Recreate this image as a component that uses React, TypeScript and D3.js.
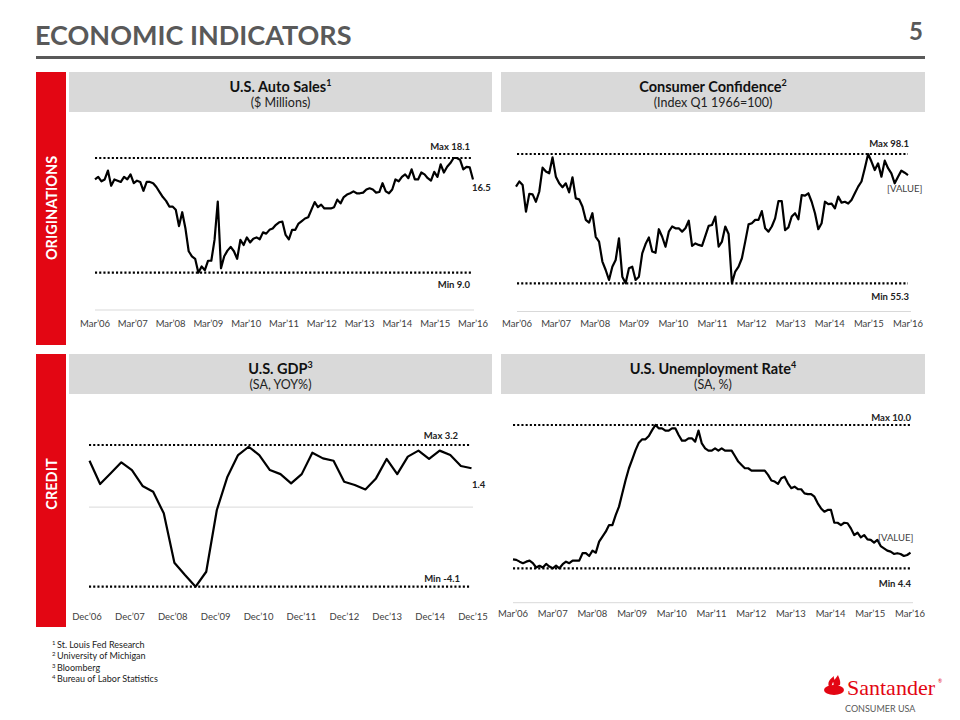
import React from "react";
import * as d3 from "d3";

const autoSales = [16.4,16.6,16.25,16.4,17.1,15.9,16.4,16.3,16.2,16.6,16.4,16.8,16.1,16.3,16.2,15.5,16.2,16.2,16.1,15.8,15.4,15.0,14.7,14.25,14.25,14.0,12.7,13.8,12.5,10.7,10.3,10.1,9.0,9.5,9.2,9.95,9.95,11.6,14.65,9.35,10.3,10.75,11.05,10.7,10.1,11.6,11.2,11.8,11.4,11.7,11.8,11.65,12.2,12.1,12.4,12.5,12.8,13.0,13.05,12.0,11.65,12.4,12.4,12.9,13.1,13.3,13.4,14.0,14.6,14.2,14.4,14.1,14.1,14.1,14.2,14.8,14.5,15.0,15.2,15.3,15.45,15.3,15.3,15.35,15.6,15.7,15.6,15.35,15.4,16.1,15.45,15.3,15.6,16.4,16.25,16.6,16.8,16.5,17.2,16.4,16.4,16.95,16.8,16.5,16.3,17.0,16.6,17.6,16.95,17.4,17.7,18.1,18.1,17.95,17.2,17.4,17.35,16.4];

const consumerConfidence = [87.3,89.0,87.8,79.0,84.9,84.75,82.3,85.6,93.6,92.3,91.7,97.0,90.6,88.4,87.1,88.4,85.4,90.4,83.4,83.1,80.7,76.3,75.4,78.5,70.7,69.1,62.5,59.7,56.4,60.8,63.0,70.2,57.5,55.3,60.3,60.8,56.4,57.5,65.2,68.3,70.5,65.8,65.4,73.2,70.7,67.4,72.4,74.1,73.5,73.5,72.4,73.5,76.0,67.7,68.5,68.0,67.7,71.0,74.3,74.6,77.4,67.4,69.1,74.1,71.6,55.3,59.2,60.8,63.6,69.1,74.8,75.2,76.3,76.3,79.2,73.5,72.4,74.1,76.8,82.5,82.5,72.9,73.8,77.4,78.5,76.5,84.5,84.3,85.1,82.3,78.5,73.2,75.2,82.3,81.5,81.7,80.1,84.0,82.0,82.3,81.7,82.9,85.1,87.3,89.0,93.4,98.1,95.6,92.8,95.0,90.6,95.9,93.4,91.7,88.4,90.6,92.6,91.9,91.1];

const gdp = [2.39,1.19,1.74,2.31,1.91,1.09,0.79,-0.32,-2.87,-3.5,-4.1,-3.33,-0.15,1.57,2.68,3.11,2.68,1.91,1.7,1.22,1.7,2.8,2.51,2.39,1.31,1.14,0.91,1.48,2.48,1.7,2.6,2.91,2.48,2.91,2.68,2.12,2.0];

const unemployment = [4.75,4.73,4.66,4.6,4.66,4.7,4.6,4.43,4.5,4.43,4.57,4.47,4.4,4.5,4.4,4.56,4.66,4.6,4.7,4.7,4.7,4.99,4.99,4.88,5.09,5.01,5.44,5.64,5.83,6.09,6.09,6.48,6.81,7.33,7.85,8.31,8.66,9.02,9.31,9.44,9.44,9.57,9.8,10.0,9.87,9.87,9.78,9.78,9.87,9.87,9.61,9.39,9.39,9.48,9.48,9.35,9.78,9.28,9.09,9.0,9.0,9.09,9.0,9.09,9.0,9.0,9.0,8.79,8.57,8.44,8.31,8.31,8.22,8.22,8.22,8.22,8.22,8.05,7.83,7.79,7.7,7.92,7.98,7.72,7.53,7.59,7.49,7.49,7.33,7.3,7.3,7.2,6.94,6.74,6.61,6.68,6.68,6.18,6.18,6.09,6.18,6.16,5.96,5.7,5.79,5.61,5.7,5.53,5.51,5.4,5.51,5.27,5.18,5.09,5.05,4.96,4.99,4.96,4.88,4.92,5.01];

const marTicks = ["Mar’06","Mar’07","Mar’08","Mar’09","Mar’10","Mar’11","Mar’12","Mar’13","Mar’14","Mar’15","Mar’16"];
const decTicks = ["Dec’06","Dec’07","Dec’08","Dec’09","Dec’10","Dec’11","Dec’12","Dec’13","Dec’14","Dec’15"];

const footnotes = [
  ["1", "St. Louis Fed Research"],
  ["2", "University of Michigan"],
  ["3", "Bloomberg"],
  ["4", "Bureau of Labor Statistics"],
];

const FONT = "Lato, 'Open Sans', sans-serif";
const RED = "#e30613";
const GRAY_TEXT = "#404040";

type PanelProps = {
  data: number[];
  minV: number;
  maxV: number;
  minY: number;
  maxY: number;
  x0: number;
  x1: number;
  dotX0: number;
  dotX1: number;
  ticks: string[];
  tick0: number;
  tick1: number;
  tickY: number;
  axisY?: number;
  zeroLine?: boolean;
  maxLabel: string;
  minLabel: string;
  maxLabelPos: [number, number];
  minLabelPos: [number, number];
  lastLabel: string;
  lastLabelPos: [number, number];
  lastBold: boolean;
};

function Panel(p: PanelProps) {
  const y = d3.scaleLinear().domain([p.minV, p.maxV]).range([p.minY, p.maxY]);
  const x = d3.scaleLinear().domain([0, p.data.length - 1]).range([p.x0, p.x1]);
  const tx = d3.scalePoint<string>().domain(p.ticks).range([p.tick0, p.tick1]);
  const line = d3.line<number>().x((_, i) => x(i)).y((d) => y(d)).curve(d3.curveLinear);
  const dotStyle = { stroke: "#000", strokeWidth: 2.2, strokeDasharray: "2.1 2.1" };
  return (
    <g>
      {p.axisY !== undefined && (
        <line x1={p.dotX0} x2={p.dotX1 + 3} y1={p.axisY} y2={p.axisY} stroke="#d9d9d9" strokeWidth={1} />
      )}
      {p.zeroLine && (
        <line x1={p.dotX0} x2={p.dotX1 + 3} y1={y(0)} y2={y(0)} stroke="#d9d9d9" strokeWidth={1} />
      )}
      <line x1={p.dotX0} x2={p.dotX1} y1={y(p.maxV)} y2={y(p.maxV)} {...dotStyle} />
      <line x1={p.dotX0} x2={p.dotX1} y1={y(p.minV)} y2={y(p.minV)} {...dotStyle} />
      <path d={line(p.data) || ""} fill="none" stroke="#000" strokeWidth={2.2} strokeLinejoin="round" />
      {p.ticks.map((t) => (
        <text key={t} x={tx(t)} y={p.tickY} textAnchor="middle" dominantBaseline="central" fontSize={9.5} fill={GRAY_TEXT} fontFamily={FONT}>
          {t}
        </text>
      ))}
      <text x={p.maxLabelPos[0]} y={p.maxLabelPos[1]} textAnchor="end" dominantBaseline="central" fontSize={9.5} fontWeight="bold" fill="#222" fontFamily={FONT}>
        {p.maxLabel}
      </text>
      <text x={p.minLabelPos[0]} y={p.minLabelPos[1]} textAnchor="end" dominantBaseline="central" fontSize={9.5} fontWeight="bold" fill="#222" fontFamily={FONT}>
        {p.minLabel}
      </text>
      <text x={p.lastLabelPos[0]} y={p.lastLabelPos[1]} textAnchor="start" dominantBaseline="central" fontSize={9.5} fontWeight={p.lastBold ? "bold" : "normal"} fill={p.lastBold ? "#222" : GRAY_TEXT} fontFamily={FONT}>
        {p.lastLabel}
      </text>
    </g>
  );
}

function Header({ x, y, w, h, title, sup, sub }: { x: number; y: number; w: number; h: number; title: string; sup: string; sub: string }) {
  return (
    <g>
      <rect x={x} y={y} width={w} height={h} fill="#d9d9d9" />
      <text x={x + w / 2} y={y + 14.5} textAnchor="middle" dominantBaseline="central" fontFamily={FONT} fontWeight="bold" fontSize={14.5} fill="#111">
        {title}
        <tspan fontSize={9} dy={-5}>{sup}</tspan>
      </text>
      <text x={x + w / 2} y={y + 30} textAnchor="middle" dominantBaseline="central" fontFamily={FONT} fontSize={12.5} fill="#222">
        {sub}
      </text>
    </g>
  );
}

export default function App() {
  return (
    <svg width={960} height={720} viewBox="0 0 960 720" style={{ position: "absolute", left: 0, top: 0, background: "#fff" }}>
      <rect x={0} y={0} width={960} height={720} fill="#fff" />
      {/* Title */}
      <text x={35} y={45} fontFamily={FONT} fontWeight="bold" fontSize={27} fill="#595959">ECONOMIC INDICATORS</text>
      <text x={923} y={40} textAnchor="end" fontFamily={FONT} fontWeight="bold" fontSize={24} fill="#595959">5</text>
      <line x1={36} x2={925} y1={57.5} y2={57.5} stroke="#595959" strokeWidth={3} />

      {/* Side bars */}
      <rect x={36} y={72} width={30} height={273} fill={RED} />
      <rect x={36} y={354} width={30} height={273} fill={RED} />
      <text transform="translate(51,208) rotate(-90)" textAnchor="middle" dominantBaseline="central" fontFamily={FONT} fontWeight="bold" fontSize={14.5} fill="#fff">ORIGINATIONS</text>
      <text transform="translate(51,484) rotate(-90)" textAnchor="middle" dominantBaseline="central" fontFamily={FONT} fontWeight="bold" fontSize={14.5} fill="#fff">CREDIT</text>

      <Header x={69} y={72} w={423} h={40} title="U.S. Auto Sales" sup="1" sub="($ Millions)" />
      <Header x={501} y={72} w={424} h={40} title="Consumer Confidence" sup="2" sub="(Index Q1 1966=100)" />
      <Header x={69} y={354} w={423} h={40} title="U.S. GDP" sup="3" sub="(SA, YOY%)" />
      <Header x={501} y={354} w={424} h={40} title="U.S. Unemployment Rate" sup="4" sub="(SA, %)" />

      <Panel data={autoSales} minV={9.0} maxV={18.1} minY={272.7} maxY={158} x0={95} x1={473} dotX0={95} dotX1={471}
        ticks={marTicks} tick0={95} tick1={473} tickY={323} axisY={310}
        maxLabel="Max 18.1" minLabel="Min 9.0" maxLabelPos={[470, 146]} minLabelPos={[470, 284]}
        lastLabel="16.5" lastLabelPos={[472, 187]} lastBold={true} />

      <Panel data={consumerConfidence} minV={55.3} maxV={98.1} minY={283.3} maxY={154} x0={516} x1={908} dotX0={517} dotX1={908}
        ticks={marTicks} tick0={517} tick1={908} tickY={323} axisY={311.5}
        maxLabel="Max 98.1" minLabel="Min 55.3" maxLabelPos={[909, 143]} minLabelPos={[909, 296]}
        lastLabel="[VALUE]" lastLabelPos={[887, 188]} lastBold={false} />

      <Panel data={gdp} minV={-4.1} maxV={3.2} minY={586.7} maxY={445} x0={89.5} x1={471.5} dotX0={89} dotX1={470}
        ticks={decTicks} tick0={87} tick1={473} tickY={616.5} zeroLine={true}
        maxLabel="Max 3.2" minLabel="Min -4.1" maxLabelPos={[458, 435]} minLabelPos={[460, 578.5]}
        lastLabel="1.4" lastLabelPos={[472, 484]} lastBold={true} />

      <Panel data={unemployment} minV={4.4} maxV={10.0} minY={568.3} maxY={425} x0={513} x1={910.5} dotX0={513} dotX1={910}
        ticks={marTicks} tick0={513} tick1={910} tickY={613} axisY={602.7}
        maxLabel="Max 10.0" minLabel="Min 4.4" maxLabelPos={[911, 417]} minLabelPos={[911, 583]}
        lastLabel="[VALUE]" lastLabelPos={[878, 537]} lastBold={false} />

      {/* Footnotes */}
      {footnotes.map(([n, t], i) => (
        <text key={n} x={52} y={644 + i * 11.3} dominantBaseline="central" fontFamily={FONT} fontSize={9} fill="#222">
          <tspan fontSize={6} dy={-2}>{n}</tspan>
          <tspan dx={1.5} dy={2}>{t}</tspan>
        </text>
      ))}

      {/* Logo */}
      <g>
        <ellipse cx={834} cy={690} rx={10} ry={5} fill={RED} />
        <path d="M830,688 C826,683 830,679 834,676 C833,679 836,681 838,684 C839,686 838,688 836,689 C837,686 835,684 833,682 C832,684 832,686 830,688 Z" fill={RED} />
        <path d="M834,686 C832,682 836,678 838,675 C839,678 841,681 840,685 Z" fill={RED} />
        <text x={847} y={695} fontFamily="'Liberation Serif', 'DejaVu Serif', serif" fontSize={22} fill={RED}>Santander</text>
        <text x={938} y={683} fontFamily={FONT} fontSize={5} fill={RED}>®</text>
        <text x={845} y={708} dominantBaseline="central" fontFamily={FONT} fontSize={9} fill="#595959">CONSUMER USA</text>
      </g>
    </svg>
  );
}
